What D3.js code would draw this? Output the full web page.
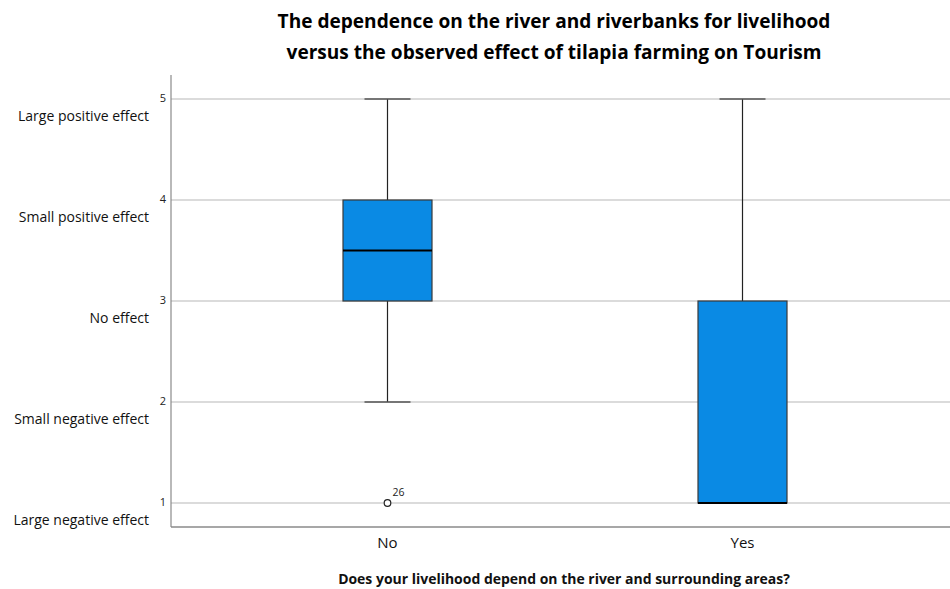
<!DOCTYPE html>
<html><head><meta charset="utf-8">
<script src="https://cdn.jsdelivr.net/npm/d3@7"></script>
<style>body{margin:0;background:#fff}svg{display:block}text{font-family:"Open Sans","Noto Sans",sans-serif}</style>
</head><body>
<svg id="c" width="950" height="589"></svg>
<script>
const categories = ["No", "Yes"];
const mins = [2, 1];
const q1s = [3, 1];
const medians = [3.5, 1];
const q3s = [4, 3];
const maxs = [5, 5];
const outlierCats = ["No"];
const outlierValues = [1];
const outlierLabels = ["26"];
const tickValues = [1, 2, 3, 4, 5];
const tickNames = ["Large negative effect", "Small negative effect", "No effect", "Small positive effect", "Large positive effect"];
const titleLines = ["The dependence on the river and riverbanks for livelihood", "versus the observed effect of tilapia farming on Tourism"];
const xTitle = "Does your livelihood depend on the river and surrounding areas?";

const svg = d3.select("#c");
const left = 171, right = 950, axisBottom = 527, axisTop = 75;
const y = d3.scaleLinear().domain([1, 5]).range([503, 99]);
const x = d3.scalePoint().domain(categories).range([387.5, 742.5]);
const boxW = 89, capW = 46;

function fitText(sel, target) {
  const w = sel.node().getComputedTextLength();
  const fs = parseFloat(sel.attr("font-size"));
  sel.attr("font-size", fs * target / w);
}

// grid
svg.append("g").selectAll("line").data(tickValues).join("line")
  .attr("x1", left).attr("x2", right).attr("y1", d => y(d)).attr("y2", d => y(d))
  .attr("stroke", "#cfcfcf").attr("stroke-width", 1.5);

// axes lines
svg.append("line").attr("x1", left).attr("x2", left).attr("y1", axisTop).attr("y2", axisBottom)
  .attr("stroke", "#8a8a8a").attr("stroke-width", 1.2);
svg.append("line").attr("x1", left).attr("x2", right).attr("y1", axisBottom).attr("y2", axisBottom)
  .attr("stroke", "#8a8a8a").attr("stroke-width", 1.5);

// tick numbers
svg.append("g").selectAll("text").data(tickValues).join("text")
  .attr("x", 166).attr("y", d => y(d) + 3).attr("text-anchor", "end")
  .attr("font-size", 11).attr("fill", "#222").text(d => d);
// tick names
svg.append("g").selectAll("text").data(tickValues).join("text")
  .attr("x", 149).attr("y", d => y(d) + 22).attr("text-anchor", "end")
  .attr("font-size", 14).attr("fill", "#111").text((d, i) => tickNames[i]);

// boxes
const g = svg.append("g");
categories.forEach((c, i) => {
  const cx = x(c);
  if (maxs[i] > q3s[i]) {
    g.append("line").attr("x1", cx).attr("x2", cx).attr("y1", y(q3s[i])).attr("y2", y(maxs[i])).attr("stroke", "#222").attr("stroke-width", 1.2);
    g.append("line").attr("x1", cx - capW / 2).attr("x2", cx + capW / 2).attr("y1", y(maxs[i])).attr("y2", y(maxs[i])).attr("stroke", "#555").attr("stroke-width", 1.5);
  }
  if (mins[i] < q1s[i]) {
    g.append("line").attr("x1", cx).attr("x2", cx).attr("y1", y(q1s[i])).attr("y2", y(mins[i])).attr("stroke", "#222").attr("stroke-width", 1.2);
    g.append("line").attr("x1", cx - capW / 2).attr("x2", cx + capW / 2).attr("y1", y(mins[i])).attr("y2", y(mins[i])).attr("stroke", "#555").attr("stroke-width", 1.5);
  }
  g.append("rect").attr("x", cx - boxW / 2).attr("width", boxW)
    .attr("y", y(q3s[i])).attr("height", y(q1s[i]) - y(q3s[i]))
    .attr("fill", "#0a8ae4").attr("stroke", "#3a3a3a").attr("stroke-width", 1.2);
  g.append("line").attr("x1", cx - boxW / 2).attr("x2", cx + boxW / 2)
    .attr("y1", y(medians[i])).attr("y2", y(medians[i])).attr("stroke", "#000").attr("stroke-width", 2);
});

// outliers
outlierValues.forEach((v, i) => {
  const cx = x(outlierCats[i]);
  svg.append("circle").attr("cx", cx).attr("cy", y(v)).attr("r", 3.3)
    .attr("fill", "#fff").attr("stroke", "#222").attr("stroke-width", 1.2);
  svg.append("text").attr("x", cx + 5).attr("y", y(v) - 7).attr("font-size", 10.5).attr("fill", "#222").text(outlierLabels[i]);
});

// category labels
svg.append("g").selectAll("text").data(categories).join("text")
  .attr("x", d => x(d)).attr("y", 548).attr("text-anchor", "middle")
  .attr("font-size", 15).attr("fill", "#111").text(d => d);

// x title
const xt = svg.append("text").attr("x", 564).attr("y", 584).attr("text-anchor", "middle")
  .attr("font-size", 12.5).attr("font-weight", "bold").attr("fill", "#111").text(xTitle);
fitText(xt, 452);

// title
const t1 = svg.append("text").attr("x", 554).attr("y", 28).attr("text-anchor", "middle")
  .attr("font-size", 18).attr("font-weight", "bold").attr("fill", "#000").text(titleLines[0]);
fitText(t1, 553);
const t2 = svg.append("text").attr("x", 554).attr("y", 59).attr("text-anchor", "middle")
  .attr("font-size", t1.attr("font-size")).attr("font-weight", "bold").attr("fill", "#000").text(titleLines[1]);
</script>
</body></html>
